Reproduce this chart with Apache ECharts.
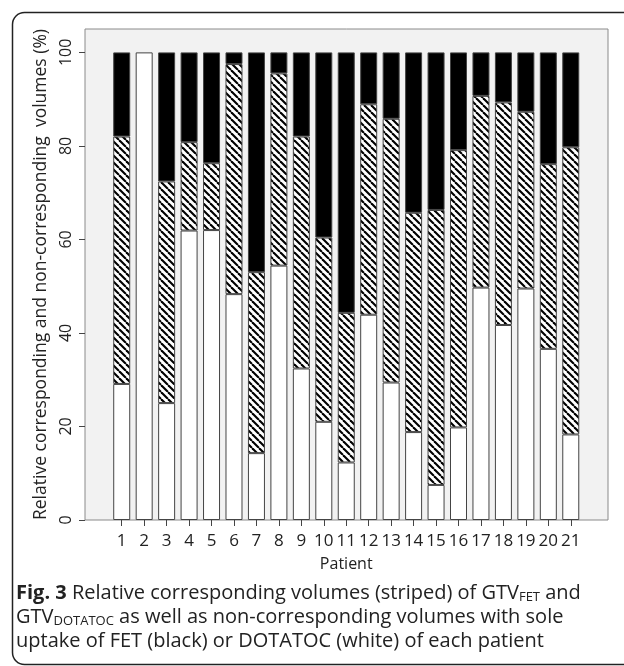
<!DOCTYPE html>
<html>
<head>
<meta charset="utf-8">
<script src="https://cdn.jsdelivr.net/npm/echarts@6/dist/echarts.min.js"></script>
<style>
html,body{margin:0;padding:0;background:#fff;}
#chart{width:624px;height:666px;}
</style>
</head>
<body>
<div id="chart"></div>
<script>
// ---- data ----
var patients = ['1','2','3','4','5','6','7','8','9','10','11','12','13','14','15','16','17','18','19','20','21'];
// sole DOTATOC uptake (white)
var dotatocOnly = [29.1,100,25.0,61.9,62.0,48.3,14.3,54.4,32.4,21.0,12.3,43.9,29.4,18.8,7.5,19.8,49.7,41.7,49.5,36.6,18.3];
// corresponding volume (striped)
var corresponding = [52.9,0,47.4,18.9,14.3,49.2,38.7,41.1,49.6,39.4,32.0,45.0,56.4,46.9,58.8,59.3,41.0,47.6,37.8,39.5,61.4];
// sole FET uptake (black)
var fetOnly = [18.0,0,27.6,19.2,23.7,2.5,47.0,4.5,18.0,39.6,55.7,11.1,14.2,34.3,33.7,20.9,9.3,10.7,12.7,23.9,20.3];
var yTicks = [0,20,40,60,80,100];

function nz(arr){ return arr.map(function(v){ return v === 0 ? '-' : v; }); }

// ---- stripe pattern ----
function makeStripe(){
  var s = 7;
  var c = document.createElement('canvas');
  c.width = s; c.height = s;
  var g = c.getContext('2d');
  g.fillStyle = '#ffffff';
  g.fillRect(0,0,s,s);
  g.strokeStyle = '#000000';
  g.lineWidth = 2.1;
  for (var k=-1;k<=1;k++){
    g.beginPath();
    g.moveTo(k*s, 0);
    g.lineTo(k*s + s, s);
    g.stroke();
  }
  return c;
}
var stripe = makeStripe();

var chart = echarts.init(document.getElementById('chart'), null, {renderer:'canvas'});
var FONT = '"Open Sans", "DejaVu Sans", sans-serif';
var border = {borderColor:'#444', borderWidth:1};

var option = {
  backgroundColor:'#ffffff',
  animation:false,
  grid:[
    {left:85, right:16, top:29, bottom:146, show:true, backgroundColor:'#f2f2f2', borderColor:'#8a8a8a', borderWidth:1},
    {left:110.5, right:42, top:29, bottom:146}
  ],
  xAxis:[
    {gridIndex:0, type:'value', show:false, min:0, max:1},
    {gridIndex:1, type:'category', data:patients,
     axisLine:{show:false},
     axisTick:{show:true, alignWithLabel:true, length:6, lineStyle:{color:'#444', width:1}},
     axisLabel:{fontSize:17, color:'#222', margin:13, fontFamily:FONT, interval:0},
     name:'Patient', nameLocation:'middle', nameGap:36,
     nameTextStyle:{fontSize:16, color:'#222', fontFamily:FONT}
    }
  ],
  yAxis:[
    {gridIndex:0, type:'value', show:false, min:0, max:1},
    {gridIndex:1, type:'value', min:0, max:105, interval:20, offset:25.5,
     splitLine:{show:false},
     axisLine:{show:false},
     axisTick:{show:true, length:6, customValues:yTicks, lineStyle:{color:'#444', width:1}},
     axisLabel:{rotate:90, fontSize:16, color:'#222', margin:11, fontFamily:FONT, customValues:yTicks},
     name:'Relative corresponding and non-corresponding  volumes (%)',
     nameLocation:'middle', nameGap:30, nameRotate:90,
     nameTextStyle:{fontSize:17.5, color:'#222', fontFamily:FONT}
    }
  ],
  series:[
    {name:'DOTATOC', type:'bar', xAxisIndex:1, yAxisIndex:1, stack:'v', barWidth:17,
     data:nz(dotatocOnly), itemStyle:Object.assign({color:'#ffffff'}, border)},
    {name:'Corresponding', type:'bar', xAxisIndex:1, yAxisIndex:1, stack:'v', barWidth:17,
     data:nz(corresponding), itemStyle:Object.assign({color:{image:stripe, repeat:'repeat'}}, border)},
    {name:'FET', type:'bar', xAxisIndex:1, yAxisIndex:1, stack:'v', barWidth:17,
     data:nz(fetOnly), itemStyle:Object.assign({color:'#000000'}, border)}
  ],
  graphic:[
    {type:'rect', left:10, top:10, shape:{width:700, height:652, r:12}, style:{fill:'none', stroke:'#222', lineWidth:1.5}, silent:true, z:-1},
    {type:'text', left:16, top:583, style:{
      text:'{b|Fig. 3} Relative corresponding volumes (striped) of GTV{s|FET} and',
      font:'20px ' + FONT, fill:'#222',
      rich:{b:{fontWeight:'bold', fontSize:20, fontFamily:FONT, fill:'#222'},
            s:{fontSize:13, fontFamily:FONT, fill:'#222', padding:[8,0,0,0]}}
    }},
    {type:'text', left:16, top:607, style:{
      text:'GTV{s|DOTATOC} as well as non-corresponding volumes with sole',
      font:'20px ' + FONT, fill:'#222',
      rich:{s:{fontSize:13, fontFamily:FONT, fill:'#222', padding:[8,0,0,0]}}
    }},
    {type:'text', left:16, top:631, style:{
      text:'uptake of FET (black) or DOTATOC (white) of each patient',
      font:'20px ' + FONT, fill:'#222'
    }}
  ]
};
chart.setOption(option);
</script>
</body>
</html>
